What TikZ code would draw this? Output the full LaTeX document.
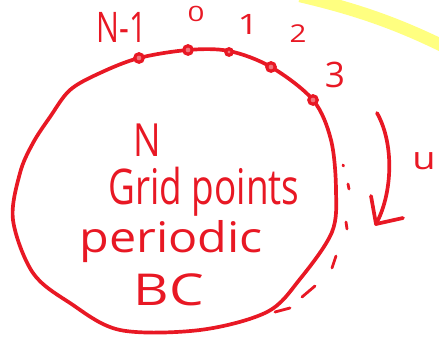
\documentclass[tikz,border=0pt]{standalone}
\usepackage{fontspec}
\setmainfont{Open Sans}
\definecolor{pen}{RGB}{232,24,36}
\definecolor{hl}{RGB}{255,255,128}
\begin{document}
\begin{tikzpicture}[x=0.02cm,y=-0.02cm,
  pen/.style={draw=pen,line width=2.1pt,line cap=round,line join=round},
  lbl/.style={text=pen,inner sep=0pt,anchor=base},
  pt/.style={circle,draw=pen,fill=pen!60!white,line width=1.8pt,minimum size=0.17cm,inner sep=0pt}]
\useasboundingbox (0,0) rectangle (439,337);
% yellow highlight stroke
\draw[hl,line width=0.25cm] (300,-4) .. controls (360,10) and (400,25) .. (445,47);
% boundary curve
\draw[pen] plot[smooth cycle,tension=0.55] coordinates {(139,58) (188,50) (229,51) (271,67) (313,100) (331,140) (336,190) (332,232) (300,279) (267,312) (200,330) (120,330) (70,303) (33,273) (13,220) (20,173) (33,143) (50,117) (70,90) (100,73)};
% grid points
\node[pt] (pN) at (139,58) {};
\node[pt] (p0) at (188,50) {};
\node[pt,minimum size=0.13cm] (p1) at (229,52) {};
\node[pt] (p2) at (271,67) {};
\node[pt] (p3) at (313,100) {};
% point labels
\node[lbl,font=\fontsize{24}{28}\selectfont] (lN) at (122,43) {\scalebox{0.72}[1]{N-1}};
\node[lbl,font=\fontsize{12}{14}\selectfont] (l0) at (196,22) {\scalebox{1.4}[1]{0}};
\node[lbl,font=\fontsize{16}{19}\selectfont] (l1) at (248,35) {\scalebox{1.3}[1]{1}};
\node[lbl,font=\fontsize{14}{17}\selectfont] (l2) at (298,43) {\scalebox{1.2}[1]{2}};
\node[lbl,font=\fontsize{20}{24}\selectfont] (l3) at (335,88) {3};
% inner text
\node[lbl,font=\fontsize{26}{30}\selectfont] (tN) at (147,157) {\scalebox{0.8}[1]{N}};
\node[lbl,font=\fontsize{28}{32}\selectfont] (tG) at (204,205) {\scalebox{0.75}[1]{Grid points}};
\node[lbl,font=\fontsize{24}{28}\selectfont] (tP) at (171,253) {\scalebox{1.15}[1]{periodic}};
\node[lbl,font=\fontsize{25}{29}\selectfont] (tB) at (169,305) {\scalebox{1.25}[1]{BC}};
% velocity arrow
\coordinate (a0) at (377,113);
\coordinate (a1) at (376,224);
\draw[pen] (a0) .. controls (395,145) and (392,195) .. (a1);
\draw[pen] (371,196) -- (a1) -- (403,218);
\node[lbl,font=\fontsize{18}{21}\selectfont] (u) at (424,170) {\scalebox{1.2}[1]{u}};
% dashed outer arc
\draw[pen,line width=1.6pt] (343,165) -- (343.5,166);
\draw[pen,line width=1.6pt] (348,184) -- (349,189);
\draw[pen,line width=1.6pt] (346,222) -- (347,229);
\draw[pen,line width=1.6pt] (332,268) -- (336,256);
\draw[pen,line width=1.6pt] (302,297) -- (315,286);
\draw[pen,line width=1.6pt] (275,312) -- (290,308);
\end{tikzpicture}
\end{document}
